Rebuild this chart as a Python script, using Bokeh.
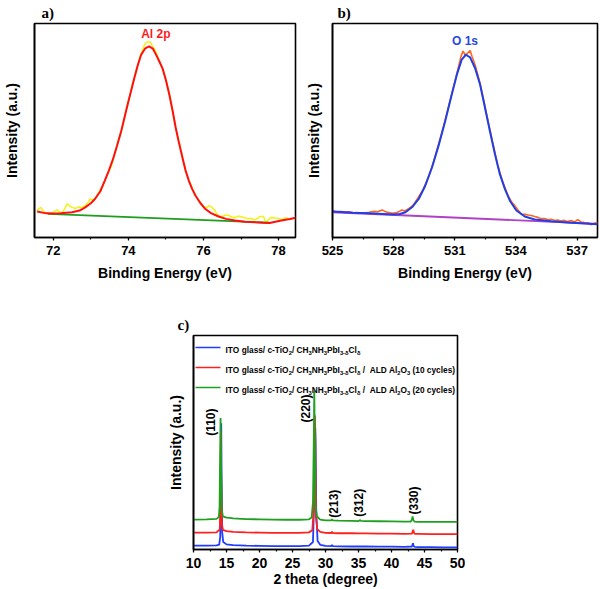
import math
from bokeh.plotting import figure
from bokeh.layouts import column, row
from bokeh.models import Range1d, SingleIntervalTicker, FixedTicker, Label, Spacer
from bokeh.core.properties import value
from bokeh.embed import file_html
from bokeh.resources import INLINE

# ---------------- data: panel a (Al 2p XPS) ----------------
a_raw_x = [71.57, 71.62, 71.67, 71.75, 71.82, 71.9, 71.97, 72.04, 72.1, 72.17, 72.24, 72.3, 72.37,
           72.44, 72.5, 72.58, 72.68, 72.76, 72.84, 72.92, 72.98, 73.05, 73.12, 73.2, 73.3, 73.38,
           73.47, 73.55, 73.62, 73.7, 73.78, 73.86, 73.95, 74.03, 74.1, 74.18, 74.26, 74.34, 74.42,
           74.48, 74.55, 74.6, 74.65, 74.7, 74.78, 74.86, 74.94, 75.02, 75.1, 75.18, 75.27, 75.36,
           75.44, 75.52, 75.6, 75.68, 75.76, 75.84, 75.92, 76.0, 76.08, 76.15, 76.22, 76.3, 76.38,
           76.45, 76.5, 76.58, 76.67, 76.75, 76.84, 76.92, 77.0, 77.1, 77.19, 77.27, 77.36, 77.43,
           77.5, 77.6, 77.66, 77.72, 77.8, 77.9, 77.98, 78.05, 78.1, 78.15, 78.2, 78.25, 78.3,
           78.36, 78.42]
a_raw_y = [12.5, 13.5, 14.1, 12.0, 11.4, 11.2, 11.6, 12.2, 12.9, 11.9, 11.6, 13.2, 15.7,
           14.6, 14.1, 13.6, 14.3, 14.0, 14.8, 16.2, 18.0, 17.6, 18.3, 20.8, 23.6, 27.0,
           30.8, 33.5, 38.2, 43.5, 47.9, 53.2, 60.4, 65.5, 71.2, 76.2, 81.3, 86.0, 89.6,
           91.2, 91.6, 90.8, 89.2, 88.0, 84.5, 80.8, 77.5, 72.3, 66.0, 58.8, 50.5, 43.6,
           37.8, 31.0, 27.3, 23.8, 20.3, 18.0, 16.4, 14.5, 13.9, 14.9, 14.2, 12.6, 10.3,
           10.0, 9.7, 10.5, 10.3, 9.6, 9.3, 10.0, 9.7, 9.2, 8.8, 9.0, 8.1, 8.8,
           9.8, 9.8, 6.8, 8.2, 9.3, 9.1, 9.0, 8.6, 8.3, 8.8, 9.3, 8.7, 8.5,
           8.9, 9.1]
a_fit_x = [71.57, 71.75, 71.97, 72.2, 72.5, 72.7, 72.85, 73.0, 73.11, 73.25, 73.37, 73.48, 73.59,
           73.7, 73.81, 73.9, 73.99, 74.08, 74.16, 74.25, 74.34, 74.45, 74.55, 74.65, 74.75, 74.83,
           74.91, 75.0, 75.09, 75.18, 75.26, 75.35, 75.44, 75.52, 75.61, 75.7, 75.79, 75.92, 76.05,
           76.2, 76.4, 76.6, 76.84, 77.1, 77.37, 77.6, 77.76, 78.07, 78.3, 78.46]
a_fit_y = [12.1, 11.5, 11.2, 11.3, 11.8, 12.6, 14.1, 16.0, 18.0, 21.5, 26.5, 31.3, 36.6,
           43.0, 49.8, 56.3, 62.9, 69.0, 74.6, 80.5, 85.4, 88.4, 89.3, 88.3, 85.0, 82.0,
           79.0, 73.5, 66.8, 59.0, 51.3, 44.0, 37.3, 31.5, 26.5, 22.6, 19.5, 16.0, 13.3,
           11.4, 9.8, 8.7, 7.9, 7.4, 7.1, 6.9, 6.8, 7.9, 8.6, 9.2]
a_bg_x = [71.85, 77.75]
a_bg_y = [11.0, 6.9]

# ---------------- data: panel b (O 1s XPS) ----------------
b_raw_x = [525.0, 525.2, 525.4, 525.6, 525.8, 526.0, 526.2, 526.4, 526.6, 526.8, 527.03, 527.2,
           527.44, 527.6, 527.7, 527.93, 528.1, 528.25, 528.4, 528.55, 528.75, 528.95, 529.2,
           529.45, 529.7, 529.95, 530.2, 530.45, 530.7, 530.95, 531.15, 531.3, 531.4, 531.5,
           531.6, 531.75, 531.85, 532.0, 532.2, 532.4, 532.6, 532.85, 533.1, 533.35, 533.6,
           533.8, 533.94, 534.1, 534.27, 534.45, 534.6, 534.75, 534.92, 535.08, 535.24, 535.4,
           535.57, 535.73, 535.9, 536.05, 536.2, 536.35, 536.5, 536.7, 536.87, 537.03, 537.2,
           537.36, 537.52, 537.68, 537.85, 538.0]
b_raw_y = [12.6, 11.8, 12.1, 11.6, 12.0, 11.5, 11.7, 11.4, 11.6, 11.8, 12.2, 12.0,
           12.9, 12.0, 11.8, 11.3, 11.5, 12.0, 12.9, 12.4, 13.6, 15.0, 18.6,
           22.5, 28.0, 35.0, 43.5, 52.0, 61.5, 70.8, 78.5, 84.5, 87.1, 85.5,
           85.8, 87.4, 84.5, 80.5, 73.5, 65.0, 55.8, 44.8, 34.0, 26.0, 19.8,
           16.4, 14.9, 12.9, 11.0, 10.8, 10.5, 10.3, 9.8, 9.4, 8.8, 8.9,
           8.3, 8.5, 7.9, 8.2, 7.7, 8.1, 7.5, 7.9, 7.2, 8.4, 7.2,
           7.0, 6.9, 6.0, 6.7, 7.1]
b_fit_x = [525.0, 525.5, 526.0, 526.5, 527.0, 527.5, 528.0, 528.3, 528.58, 528.9, 529.23, 529.55,
           529.88, 530.2, 530.53, 530.85, 531.1, 531.34, 531.54, 531.75, 531.99, 532.24, 532.48,
           532.72, 532.97, 533.21, 533.46, 533.7, 534.02, 534.43, 534.92, 535.73, 536.54, 537.36,
           538.0]
b_fit_y = [12.2, 11.9, 11.6, 11.4, 11.2, 11.0, 10.8, 11.0, 11.8, 14.1, 18.0, 24.2,
           32.7, 42.8, 54.4, 66.8, 76.1, 83.1, 85.4, 84.2, 79.2, 71.5, 60.6,
           49.8, 38.9, 29.6, 22.6, 17.2, 12.6, 9.8, 8.4, 7.6, 7.0, 6.5,
           6.2]
b_bg_x = [525.0, 538.0]
b_bg_y = [11.8, 6.4]

# ---------------- data: panel c (XRD) ----------------
c_blue_x = [10, 12, 13.5, 13.9, 14.05, 14.15, 14.2, 14.25, 14.35, 14.5, 15, 16, 18, 20, 22, 24, 26,
            27.5, 28.1, 28.3, 28.4, 28.45, 28.5, 28.6, 28.8, 29.2, 30, 30.9, 31.0, 31.1, 32, 34,
            35, 36, 38, 40, 42, 43.1, 43.25, 43.35, 43.5, 44, 46, 48, 50]
c_blue_y = [1.8, 1.8, 1.9, 2.3, 6.0, 35.0, 59.0, 35.0, 8.0, 3.5, 2.4, 2.0, 1.8, 1.7, 1.6, 1.6, 1.6,
            1.8, 3.5, 25.0, 50.0, 57.0, 50.0, 18.0, 4.0, 2.2, 1.7, 1.6, 2.1, 1.6, 1.5, 1.4,
            1.4, 1.4, 1.3, 1.3, 1.2, 1.4, 2.9, 1.6, 1.2, 1.1, 1.1, 1.0, 1.0]
c_red_x = [10, 12, 13.5, 13.8, 13.9, 14.0, 14.1, 14.15, 14.2, 14.3, 14.45, 15, 16, 18, 20, 22, 24,
           26, 27.5, 28.0, 28.25, 28.35, 28.4, 28.45, 28.55, 28.75, 29.2, 30, 30.9, 31.0, 31.1,
           32, 34, 35, 36, 38, 40, 42, 43.1, 43.3, 43.4, 43.55, 44, 46, 48, 50]
c_red_y = [7.9, 7.9, 8.0, 9.0, 8.8, 10.0, 30.0, 55.0, 30.0, 12.0, 9.2, 8.6, 8.2, 8.0, 7.9, 7.8, 7.8,
           7.8, 8.0, 9.0, 20.0, 50.0, 62.6, 50.0, 15.0, 9.5, 8.2, 7.8, 7.7, 8.3, 7.7,
           7.6, 7.6, 7.5, 7.5, 7.4, 7.4, 7.3, 7.4, 9.2, 7.8, 7.3, 7.3, 7.2, 7.2, 7.2]
c_green_x = [10, 12, 13.5, 13.7, 13.85, 13.95, 14.02, 14.1, 14.18, 14.28, 14.45, 15, 15.5, 16, 18,
             20, 22, 24, 26, 27.5, 27.9, 28.1, 28.22, 28.3, 28.38, 28.5, 28.7, 29.2, 30, 30.9,
             31.0, 31.1, 32, 34, 35.0, 35.2, 35.4, 36, 38, 40, 42, 42.9, 43.1, 43.2, 43.3, 43.5,
             44, 46, 48, 50]
c_green_y = [14.0, 14.1, 14.3, 14.8, 15.6, 20.0, 40.0, 61.5, 40.0, 19.0, 15.5, 14.9, 14.8, 14.5, 14.2,
             14.1, 14.0, 13.9, 13.9, 14.1, 15.0, 22.0, 50.0, 74.3, 50.0, 20.0, 15.5, 14.0, 13.6, 13.6,
             14.2, 13.6, 13.5, 13.4, 13.3, 13.7, 13.4, 13.3, 13.2, 13.1, 13.0, 13.0, 14.0, 15.4, 13.8, 13.0,
             12.9, 12.9, 12.9, 12.9]
peak_names = ["(110)", "(220)", "(213)", "(312)", "(330)"]
peak_label_x = [12.7, 27.0, 31.26, 35.15, 43.38]
peak_label_y = [59.5, 65.9, 21.4, 21.8, 22.9]

legend_rows = [
    [("ITO glass/ c-TiO", 0), ("2", 1), ("/ CH", 0), ("3", 1), ("NH", 0), ("3", 1), ("PbI", 0),
     ("3-\u03b4", 1), ("Cl", 0), ("\u03b4", 1)],
    [("ITO glass/ c-TiO", 0), ("2", 1), ("/ CH", 0), ("3", 1), ("NH", 0), ("3", 1), ("PbI", 0),
     ("3-\u03b4", 1), ("Cl", 0), ("\u03b4", 1), (" /  ALD Al", 0), ("2", 1), ("O", 0), ("3", 1),
     (" (10 cycles)", 0)],
    [("ITO glass/ c-TiO", 0), ("2", 1), ("/ CH", 0), ("3", 1), ("NH", 0), ("3", 1), ("PbI", 0),
     ("3-\u03b4", 1), ("Cl", 0), ("\u03b4", 1), (" /  ALD Al", 0), ("2", 1), ("O", 0), ("3", 1),
     (" (20 cycles)", 0)],
]

FONT = "Liberation Sans"
SERIF = "Liberation Serif"


def base_fig(width, height, xr, yr, borders, interval, tick_size):
    l, r, t, b = borders
    p = figure(width=width, height=height, x_range=Range1d(*xr), y_range=Range1d(*yr),
               output_backend="svg", toolbar_location=None,
               min_border_left=l, min_border_right=r, min_border_top=t, min_border_bottom=b)
    p.grid.visible = False
    p.background_fill_color = "white"
    p.border_fill_color = "white"
    p.outline_line_color = "black"
    p.outline_line_width = 1.6
    p.outline_line_alpha = 1.0
    ax = p.xaxis[0]
    ax.ticker = SingleIntervalTicker(interval=interval, num_minor_ticks=2)
    ax.axis_line_color = "black"
    ax.axis_line_width = 1.6
    ax.major_tick_out = 3
    ax.major_tick_in = 0
    ax.minor_tick_out = 2
    ax.minor_tick_in = 0
    ax.major_tick_line_width = 1.2
    ax.minor_tick_line_width = 1.2
    ax.major_label_text_font = FONT
    ax.major_label_text_font_style = "bold"
    ax.major_label_text_font_size = tick_size
    ax.major_label_text_color = "black"
    ay = p.yaxis[0]
    ay.ticker = FixedTicker(ticks=[])
    ay.major_tick_out = 0
    ay.major_tick_in = 0
    ay.minor_tick_out = 0
    ay.minor_tick_in = 0
    ay.axis_line_color = "black"
    ay.axis_line_width = 1.6
    ay.axis_label = "Intensity (a.u.)"
    ay.axis_label_text_font = FONT
    ay.axis_label_text_font_style = "bold"
    ay.axis_label_text_font_size = "14px"
    ay.axis_label_text_color = "black"
    return p


def set_xlabel(p, text, tick_standoff, label_standoff):
    ax = p.xaxis[0]
    ax.major_label_standoff = tick_standoff
    ax.axis_label = text
    ax.axis_label_text_font = FONT
    ax.axis_label_text_font_style = "bold"
    ax.axis_label_text_font_size = "14px"
    ax.axis_label_text_color = "black"
    ax.axis_label_standoff = label_standoff


def panel_tag(p, text, offset, standoff):
    p.title.text = text
    p.title.align = "left"
    p.title.offset = offset
    p.title.standoff = standoff
    p.title.text_font = SERIF
    p.title.text_font_style = "bold"
    p.title.text_font_size = "15px"
    p.title.text_color = "black"


# ---------------- panel a ----------------
pa = base_fig(302, 285, (71.5, 78.45), (0, 100), (30, 7, 22, 48), 2, "13px")
set_xlabel(pa, "Binding Energy (eV)", 5, 7)
pa.yaxis[0].axis_label_standoff = 15
pa.line(a_raw_x, a_raw_y, line_color="#f2f21e", line_width=1.6)
pa.line(a_bg_x, a_bg_y, line_color="#1e9e1e", line_width=1.8)
pa.line(a_fit_x, a_fit_y, line_color="#ff1010", line_width=2.0)
pa.add_layout(Label(x=74.73, y=95.2, text="Al 2p", text_font=FONT, text_font_style="bold",
                    text_font_size="12px", text_color="#ff1a1a", text_align="center",
                    text_baseline="middle"))
panel_tag(pa, "a)", 7, 5)

# ---------------- panel b ----------------
pb = base_fig(298, 285, (525, 538), (0, 100), (28, 3, 22, 48), 3, "13px")
set_xlabel(pb, "Binding Energy (eV)", 5, 7)
pb.yaxis[0].axis_label_standoff = 11
pb.line(b_raw_x, b_raw_y, line_color="#ff6420", line_width=1.6)
pb.line(b_bg_x, b_bg_y, line_color="#b040c8", line_width=1.8)
pb.line(b_fit_x, b_fit_y, line_color="#2040e6", line_width=2.0)
pb.add_layout(Label(x=531.5, y=91.6, text="O 1s", text_font=FONT, text_font_style="bold",
                    text_font_size="12px", text_color="#2848e0", text_align="center",
                    text_baseline="middle"))
panel_tag(pb, "b)", 5, 5)

# ---------------- panel c ----------------
C_W, C_H = 315, 304
C_BORDER = (43, 8, 50, 40)
c_xr = (10, 50)
c_yr = (0, 100)
pc = base_fig(C_W, C_H, c_xr, c_yr, C_BORDER, 5, "14px")
set_xlabel(pc, "2 theta (degree)", 5, 0)
pc.yaxis[0].axis_label_standoff = 10
panel_tag(pc, "c)", -16, 6)
xrd_colors = ["#1f3cff", "#ff1f1f", "#1fa01f"]
pc.line(c_blue_x, c_blue_y, line_color=xrd_colors[0], line_width=1.8)
pc.line(c_red_x, c_red_y, line_color=xrd_colors[1], line_width=1.8)
pc.line(c_green_x, c_green_y, line_color=xrd_colors[2], line_width=1.8)
pc.text(x=peak_label_x, y=peak_label_y, text=peak_names, angle=math.pi / 2,
        text_font=value(FONT), text_font_style="bold", text_font_size="12px",
        text_align="center", text_baseline="middle", text_color="black")

frame_w = C_W - C_BORDER[0] - C_BORDER[1]
frame_h = C_H - C_BORDER[2] - C_BORDER[3]
upx_x = (c_xr[1] - c_xr[0]) / frame_w
upx_y = (c_yr[1] - c_yr[0]) / frame_h

# legend built from text pieces (sub-scripts as smaller pieces)
W = {' ': 0.278, '(': 0.333, ')': 0.333, '-': 0.333, '/': 0.278, 'A': 0.722, 'C': 0.722,
     'D': 0.722, 'H': 0.722, 'I': 0.278, 'L': 0.611, 'N': 0.722, 'O': 0.778, 'P': 0.667,
     'T': 0.611, 'a': 0.556, 'b': 0.611, 'c': 0.556, 'e': 0.556, 'g': 0.611, 'i': 0.278,
     'l': 0.278, 's': 0.556, 'y': 0.556, '\u03b4': 0.611}
LEG_FS = 8.3
SUB_SCALE = 0.7
leg_x0 = c_xr[0] + 2 * upx_x
leg_x1 = c_xr[0] + 27 * upx_x
leg_tx = c_xr[0] + 32 * upx_x
leg_row_y = [c_yr[1] - (12 + 20 * i) * upx_y for i in range(3)]

main_x, main_y, main_t = [], [], []
sub_x, sub_y, sub_t = [], [], []
for i, segs in enumerate(legend_rows):
    pc.line([leg_x0, leg_x1], [leg_row_y[i], leg_row_y[i]], line_color=xrd_colors[i], line_width=1.6)
    cur = 0.0
    for txt, sub in segs:
        fs = LEG_FS * (SUB_SCALE if sub else 1.0)
        word = ""
        word_start = cur
        for ch in txt + " ":
            if ch == " ":
                if word:
                    xx = leg_tx + word_start * upx_x
                    if sub:
                        sub_x.append(xx); sub_y.append(leg_row_y[i] - 5.0 * upx_y); sub_t.append(word)
                    else:
                        main_x.append(xx); main_y.append(leg_row_y[i] - 2.5 * upx_y); main_t.append(word)
                    word = ""
                cur += W[' '] * fs
                word_start = cur
            else:
                word += ch
                cur += W.get(ch, 0.556) * fs
        cur -= W[' '] * fs  # remove the sentinel space

pc.text(x=main_x, y=main_y, text=main_t, text_font=value(FONT), text_font_style="bold",
        text_font_size=f"{LEG_FS}px", text_align="left", text_baseline="alphabetic",
        text_color="black")
pc.text(x=sub_x, y=sub_y, text=sub_t, text_font=value(FONT), text_font_style="bold",
        text_font_size=f"{LEG_FS * SUB_SCALE:.2f}px", text_align="left",
        text_baseline="alphabetic", text_color="black")

layout = column(row(pa, pb), row(Spacer(width=150, height=C_H), pc))

with open("out.html", "w") as f:
    f.write(file_html(layout, INLINE))
